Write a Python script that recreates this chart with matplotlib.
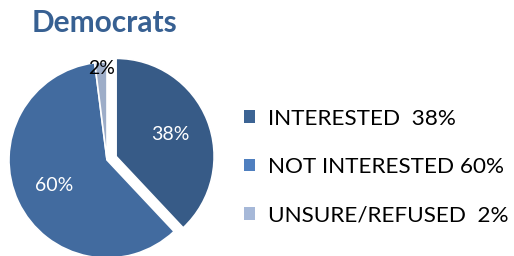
#! /usr/bin/env python3

"""Pie chart of Democrats' interest."""

import numpy as np
import matplotlib
matplotlib.use('Agg')
import matplotlib.pyplot as plt
from matplotlib.patches import Patch

# Data
categories = ['INTERESTED', 'NOT INTERESTED', 'UNSURE/REFUSED']
values = [38, 60, 2]
legend_labels = ['INTERESTED  38%', 'NOT INTERESTED 60%', 'UNSURE/REFUSED  2%']
title = 'Democrats'

plt.rcParams['font.family'] = ['Lato', 'DejaVu Sans']

wedge_colors = ['#375b87', '#426b9f', '#9dadc8']
legend_colors = ['#3c6494', '#4f7fbf', '#a6b8d8']
label_colors = ['white', 'white', 'black']


def make_plot():
    """Draw the pie and its legend."""
    fig = plt.figure(figsize=(5.14, 2.56), dpi=100)
    fig.patch.set_facecolor('white')

    # Axes placed so the pie centre sits at (107, 160) px, radius 98 px
    half = 1.3
    side = 2 * half * 98
    cx, cy = 107, 256 - 160
    ax = fig.add_axes([(cx - side / 2) / 514, (cy - side / 2) / 256,
                       side / 514, side / 256])

    wedges, texts, autotexts = ax.pie(
        values, colors=wedge_colors, startangle=90, counterclock=False,
        explode=[0.1, 0, 0], autopct='%d%%', pctdistance=0.6,
        wedgeprops=dict(edgecolor='white', linewidth=1.2),
        textprops=dict(fontsize=14))

    for w, t, c in zip(wedges, autotexts, label_colors):
        t.set_color(c)

    # Move the small slice's label out to the rim
    w = wedges[2]
    mid = np.deg2rad((w.theta1 + w.theta2) / 2)
    autotexts[2].set_position((0.94 * np.cos(mid) + w.center[0],
                               0.94 * np.sin(mid) + w.center[1]))

    ax.set_xlim(-half, half)
    ax.set_ylim(-half, half)
    ax.set_aspect('equal')
    ax.axis('off')

    fig.text(104 / 514, 1 - 23 / 256, title, ha='center', va='center',
             fontsize=21.5, fontweight='bold', color='#376092')

    handles = [Patch(facecolor=c, edgecolor='none') for c in legend_colors]
    fig.legend(handles, legend_labels, loc='center left',
               bbox_to_anchor=(244 / 514, 1 - 167 / 256), frameon=False,
               borderpad=0, borderaxespad=0,
               fontsize=16.2, handlelength=0.5, handleheight=0.5,
               handletextpad=0.55, labelspacing=1.25)

    fig.savefig('out.png', dpi=100)


if __name__ == "__main__":
    make_plot()
